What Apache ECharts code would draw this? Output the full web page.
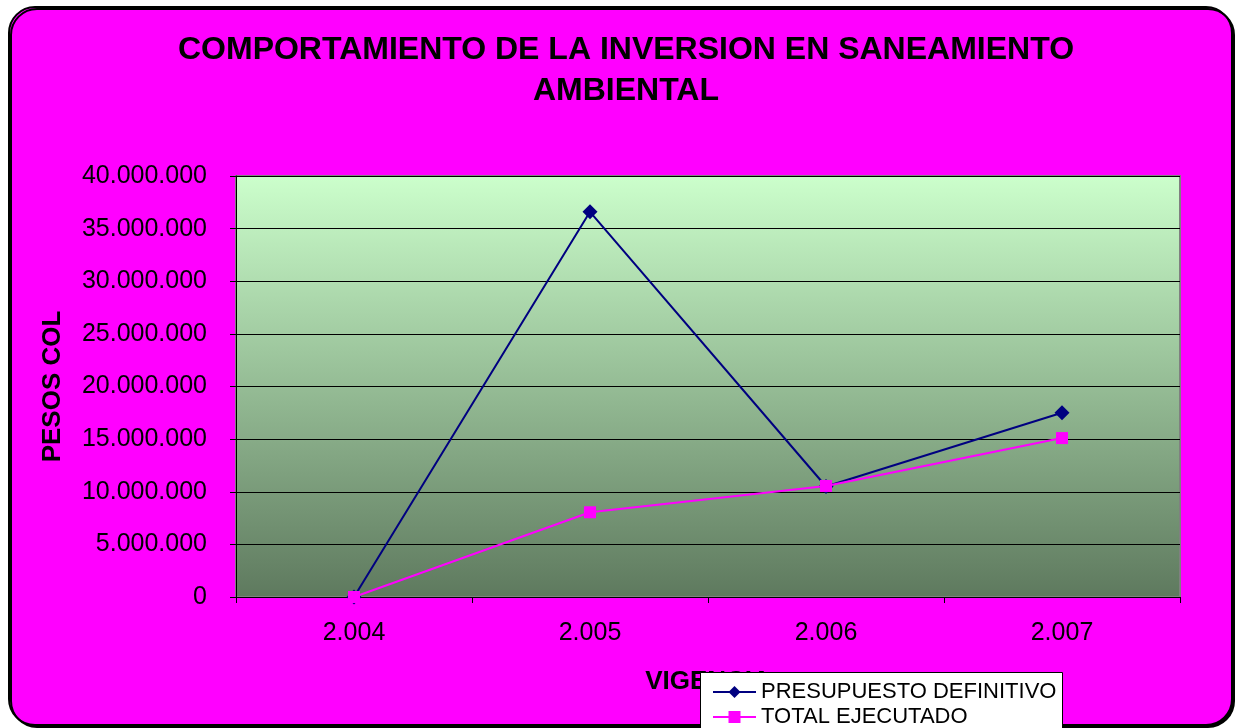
<!DOCTYPE html>
<html>
<head>
<meta charset="utf-8">
<script src="https://cdn.jsdelivr.net/npm/echarts@6/dist/echarts.min.js"></script>
<style>
html,body{margin:0;padding:0;background:#fff;}
#chart{width:1235px;height:728px;}
</style>
</head>
<body>
<div id="chart"></div>
<script>
// Años de vigencia y montos en pesos colombianos
const categories = ['2.004', '2.005', '2.006', '2.007'];
const presupuestoDefinitivo = [0, 36600000, 10500000, 17500000];
const totalEjecutado = [0, 8050000, 10550000, 15100000];
const seriesNames = ['PRESUPUESTO DEFINITIVO', 'TOTAL EJECUTADO'];
const titleLines = ['COMPORTAMIENTO DE LA INVERSION EN SANEAMIENTO', 'AMBIENTAL'];

function fmtMiles(v) {
  return String(Math.round(v)).replace(/\B(?=(\d{3})+(?!\d))/g, '.');
}

const FONT = 'Liberation Sans, Arial, sans-serif';

const chart = echarts.init(document.getElementById('chart'), null, {renderer: 'canvas'});
chart.setOption({
  backgroundColor: '#ffffff',
  animation: false,
  graphic: [{
    // marco redondeado del gráfico
    type: 'rect',
    z: -10,
    silent: true,
    shape: {x: 9, y: 7, width: 1223, height: 718, r: 26},
    style: {fill: '#FF00FF', stroke: '#000000', lineWidth: 2,
      shadowColor: 'rgba(0,0,0,1)', shadowOffsetX: 2, shadowOffsetY: 2, shadowBlur: 0}
  }, {
    // recuadro de la leyenda
    type: 'rect',
    z: 3,
    silent: true,
    shape: {x: 700.5, y: 672.5, width: 362, height: 70},
    style: {fill: '#ffffff', stroke: '#000000', lineWidth: 1}
  }],
  title: {
    text: titleLines.join('\n'),
    left: 621, textAlign: 'center', top: 25,
    textStyle: {fontFamily: FONT, fontWeight: 'bold',
      fontSize: 32, lineHeight: 41, color: '#000'}
  },
  grid: {
    left: 236, top: 176, width: 944, height: 421,
    show: true,
    borderColor: '#808080', borderWidth: 2,
    backgroundColor: new echarts.graphic.LinearGradient(0, 0, 0, 1, [
      {offset: 0, color: '#CCFFCC'},
      {offset: 1, color: '#5E795E'}
    ])
  },
  legend: {
    orient: 'vertical',
    left: 700, top: 672,
    height: 120,
    padding: [8, 10, 10, 12],
    z: 5,
    itemGap: 1, itemWidth: 43, itemHeight: 15,
    textStyle: {fontFamily: FONT, fontSize: 22, lineHeight: 24, color: '#000'},
    data: seriesNames
  },
  xAxis: {
    type: 'category',
    data: categories,
    boundaryGap: true,
    name: 'VIGENCIA',
    nameLocation: 'middle',
    nameGap: 72,
    nameTextStyle: {fontFamily: FONT, fontWeight: 'bold', fontSize: 26, color: '#000'},
    axisLine: {lineStyle: {color: '#000', width: 1}},
    axisTick: {show: true, alignWithLabel: false, length: 6, lineStyle: {color: '#000'}},
    axisLabel: {fontFamily: FONT, fontSize: 25, color: '#000', margin: 24}
  },
  yAxis: {
    type: 'value',
    min: 0, max: 40000000, interval: 5000000,
    name: 'PESOS COL',
    nameLocation: 'middle',
    nameGap: 170,
    nameRotate: 90,
    nameTextStyle: {fontFamily: FONT, fontWeight: 'bold', fontSize: 26, color: '#000'},
    axisLine: {show: true, lineStyle: {color: '#000', width: 1}},
    axisTick: {show: true, length: 6, lineStyle: {color: '#000'}},
    splitLine: {lineStyle: {color: '#000', width: 1}},
    axisLabel: {fontFamily: FONT, fontSize: 25, color: '#000', margin: 29,
      formatter: fmtMiles}
  },
  series: [{
    name: seriesNames[0],
    type: 'line',
    data: presupuestoDefinitivo,
    symbol: 'diamond', symbolSize: 15,
    lineStyle: {color: '#000080', width: 2},
    itemStyle: {color: '#000080'},
    z: 2
  }, {
    name: seriesNames[1],
    type: 'line',
    data: totalEjecutado,
    symbol: 'rect', symbolSize: 12,
    lineStyle: {color: '#FF00FF', width: 2},
    itemStyle: {color: '#FF00FF'},
    z: 3
  }]
});
</script>
</body>
</html>
